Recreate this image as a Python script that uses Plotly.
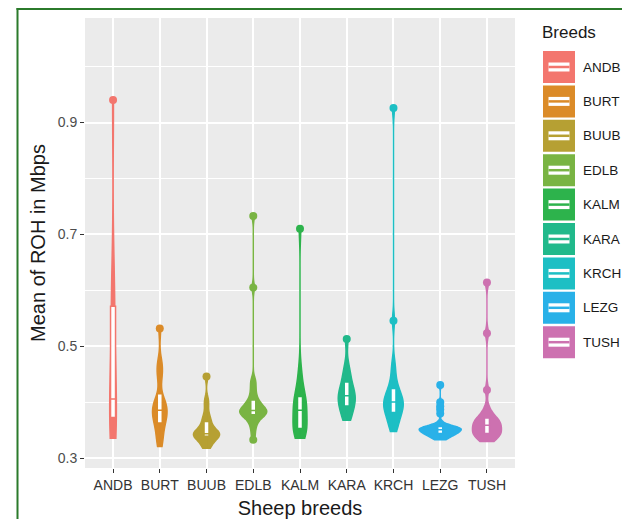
import numpy as np
import plotly.graph_objects as go

# ---------------- data ----------------
breeds = ["ANDB", "BURT", "BUUB", "EDLB", "KALM", "KARA", "KRCH", "LEZG", "TUSH"]

andb = [0.336, 0.345, 0.36, 0.377, 0.385, 0.395, 0.406, 0.44, 0.50, 0.569, 0.58, 0.62, 0.94]
burt = [0.321, 0.33, 0.34, 0.35, 0.358, 0.365, 0.37, 0.374, 0.378, 0.382, 0.386, 0.39,
        0.394, 0.398, 0.403, 0.407, 0.44, 0.452, 0.465, 0.47, 0.532]
buub = [0.318, 0.322, 0.327, 0.331, 0.335, 0.339, 0.341, 0.342, 0.3425, 0.343, 0.3435,
        0.344, 0.3445, 0.348, 0.352, 0.357, 0.362, 0.367, 0.372, 0.38, 0.395, 0.405, 0.446]
edlb = [0.333, 0.345, 0.355, 0.362, 0.368, 0.372, 0.375, 0.378, 0.379, 0.38, 0.381,
        0.382, 0.383, 0.384, 0.385, 0.386, 0.388, 0.39, 0.392, 0.395, 0.398, 0.401,
        0.404, 0.41, 0.418, 0.425, 0.435, 0.44, 0.605, 0.733]
kalm = [0.336, 0.34, 0.344, 0.348, 0.351, 0.354, 0.36, 0.366, 0.372, 0.379, 0.386,
        0.39, 0.394, 0.399, 0.404, 0.409, 0.415, 0.425, 0.44, 0.46, 0.71]
kara = [0.368, 0.375, 0.383, 0.39, 0.397, 0.401, 0.405, 0.41, 0.414, 0.418, 0.424,
        0.433, 0.44, 0.452, 0.465, 0.513]
krch = [0.348, 0.355, 0.362, 0.368, 0.373, 0.378, 0.383, 0.386, 0.389, 0.392, 0.395,
        0.398, 0.4005, 0.403, 0.406, 0.41, 0.414, 0.418, 0.423, 0.43, 0.44, 0.455,
        0.47, 0.546, 0.926]
lezg = [0.333, 0.335, 0.337, 0.339, 0.341, 0.342, 0.343, 0.344, 0.345, 0.346, 0.347,
        0.348, 0.349, 0.35, 0.3505, 0.351, 0.352, 0.353, 0.354, 0.3545, 0.355, 0.3555,
        0.356, 0.357, 0.36, 0.364, 0.38, 0.387, 0.393, 0.40, 0.431]
tush = [0.330, 0.333, 0.336, 0.339, 0.341, 0.343, 0.345, 0.347, 0.349, 0.351, 0.353,
        0.356, 0.359, 0.361, 0.363, 0.365, 0.367, 0.369, 0.371, 0.375, 0.381, 0.39,
        0.422, 0.5235, 0.614]

series = [andb, burt, buub, edlb, kalm, kara, krch, lezg, tush]

y_tick_vals = [0.3, 0.5, 0.7, 0.9]
y_tick_text = ["0.3", "0.5", "0.7", "0.9"]
y_minor_vals = [0.4, 0.6, 0.8, 1.0]

# ---------------- styles ----------------
colors = ["#F3766E", "#DB8B28", "#B6A033", "#79B443", "#2DB34C",
          "#21B98B", "#1DBFC4", "#29B1E8", "#CD71B0"]
violin_max_px = [6.7, 14.5, 26.0, 27.0, 14.0, 17.0, 19.5, 42.0, 29.0]  # drawn widths

# the page body has an 8px margin: lay the figure out 8px up/left of the reference
OFF = 8
W, H = 614, 511
ML, MR, MT, MB = 77, 107, 10, 51
PW, PH = W - ML - MR, H - MT - MB
UNIT_PX = PW / (len(breeds) + 0.2)   # pixels per category step


def px_x(px):
    return (px - OFF - ML) / PW


def px_y(py):
    return (H - MB - (py - OFF)) / PH


def nrd0(v):
    q1, q3 = np.percentile(v, [25, 75])
    return 0.9 * min(v.std(ddof=1), (q3 - q1) / 1.34) * len(v) ** -0.2


BOX_PX = 5.0

fig = go.Figure()
for name, vals, col, wpx in zip(breeds, series, colors, violin_max_px):
    v = np.asarray(vals, dtype=float)
    w = wpx / UNIT_PX
    fig.add_trace(go.Violin(
        x=[name] * len(v), y=v, name=name,
        bandwidth=nrd0(v), spanmode="hard",
        scalegroup=name, scalemode="width", width=w,
        fillcolor=col, opacity=1,
        line=dict(color=col, width=1.5),
        box=dict(visible=True, width=min(1.0, BOX_PX / wpx), fillcolor="white",
                 line=dict(color=col, width=1.5)),
        meanline=dict(visible=False),
        points="outliers", jitter=0, pointpos=0,
        marker=dict(color=col, size=8, line=dict(width=0)),
        showlegend=False, hoverinfo="y",
    ))

fig.update_layout(
    width=W, height=H, autosize=False,
    margin=dict(l=ML, r=MR, t=MT, b=MB, pad=0, autoexpand=False),
    paper_bgcolor="white", plot_bgcolor="#EBEBEB",
    violinmode="overlay",
    font=dict(family="Liberation Sans, Arial, sans-serif", color="#1a1a1a"),
)

fig.update_xaxes(
    type="category", categoryorder="array", categoryarray=breeds,
    range=[-0.6, len(breeds) - 0.4], automargin=False,
    showgrid=True, gridcolor="white", gridwidth=1.5,
    zeroline=False, showline=False,
    ticks="outside", ticklen=4, tickwidth=1.2, tickcolor="#333333",
    tickfont=dict(size=14, color="#333333"),
    title=dict(text="Sheep breeds", font=dict(size=20, color="#1a1a1a"), standoff=15),
)

fig.update_yaxes(
    range=[0.2827, 1.0867], automargin=False,
    tickmode="array", tickvals=y_tick_vals, ticktext=y_tick_text,
    showgrid=True, gridcolor="white", gridwidth=1.5,
    minor=dict(tickmode="array", tickvals=y_minor_vals, showgrid=True,
               gridcolor="white", gridwidth=0.7, ticks=""),
    zeroline=False, showline=False,
    ticks="outside", ticklen=4, tickwidth=1.2, tickcolor="#333333",
    tickfont=dict(size=14, color="#4D4D4D"),
    title=dict(text="Mean of ROH in Mbps", font=dict(size=20, color="#1a1a1a"), standoff=6),
)

shapes = []
annotations = []

# green frame (left and top edges visible in the picture), kept inside the figure
frame = dict(color="#2B7A2B", width=2)
shapes.append(dict(type="line", xref="paper", yref="paper",
                   x0=px_x(17.5), x1=px_x(17.5), y0=px_y(8), y1=px_y(OFF + H),
                   line=frame, layer="above"))
shapes.append(dict(type="line", xref="paper", yref="paper",
                   x0=px_x(16.5), x1=px_x(OFF + W), y0=px_y(9), y1=px_y(9),
                   line=frame, layer="above"))

# legend (ggplot-style keys)
annotations.append(dict(text="Breeds", xref="paper", yref="paper",
                        x=px_x(540), y=px_y(33), xanchor="left", yanchor="middle",
                        showarrow=False, font=dict(size=17, color="#1a1a1a")))
pitch = 34.4
for i, (name, col) in enumerate(zip(breeds, colors)):
    top = 51 + pitch * i
    cy = top + 16
    shapes.append(dict(type="rect", xref="paper", yref="paper",
                       x0=px_x(543), x1=px_x(575), y0=px_y(top), y1=px_y(top + 32),
                       line=dict(width=0), fillcolor=col, layer="above"))
    shapes.append(dict(type="rect", xref="paper", yref="paper",
                       x0=px_x(548.5), x1=px_x(569.5), y0=px_y(cy - 4.5), y1=px_y(cy + 4.5),
                       line=dict(width=0), fillcolor="white", layer="above"))
    shapes.append(dict(type="line", xref="paper", yref="paper",
                       x0=px_x(548.5), x1=px_x(569.5), y0=px_y(cy), y1=px_y(cy),
                       line=dict(color=col, width=2.5), layer="above"))
    annotations.append(dict(text=name, xref="paper", yref="paper",
                            x=px_x(581), y=px_y(cy), xanchor="left", yanchor="middle",
                            showarrow=False, font=dict(size=13.5, color="#1a1a1a")))

fig.update_layout(shapes=shapes, annotations=annotations)

fig.write_html("out.html")
